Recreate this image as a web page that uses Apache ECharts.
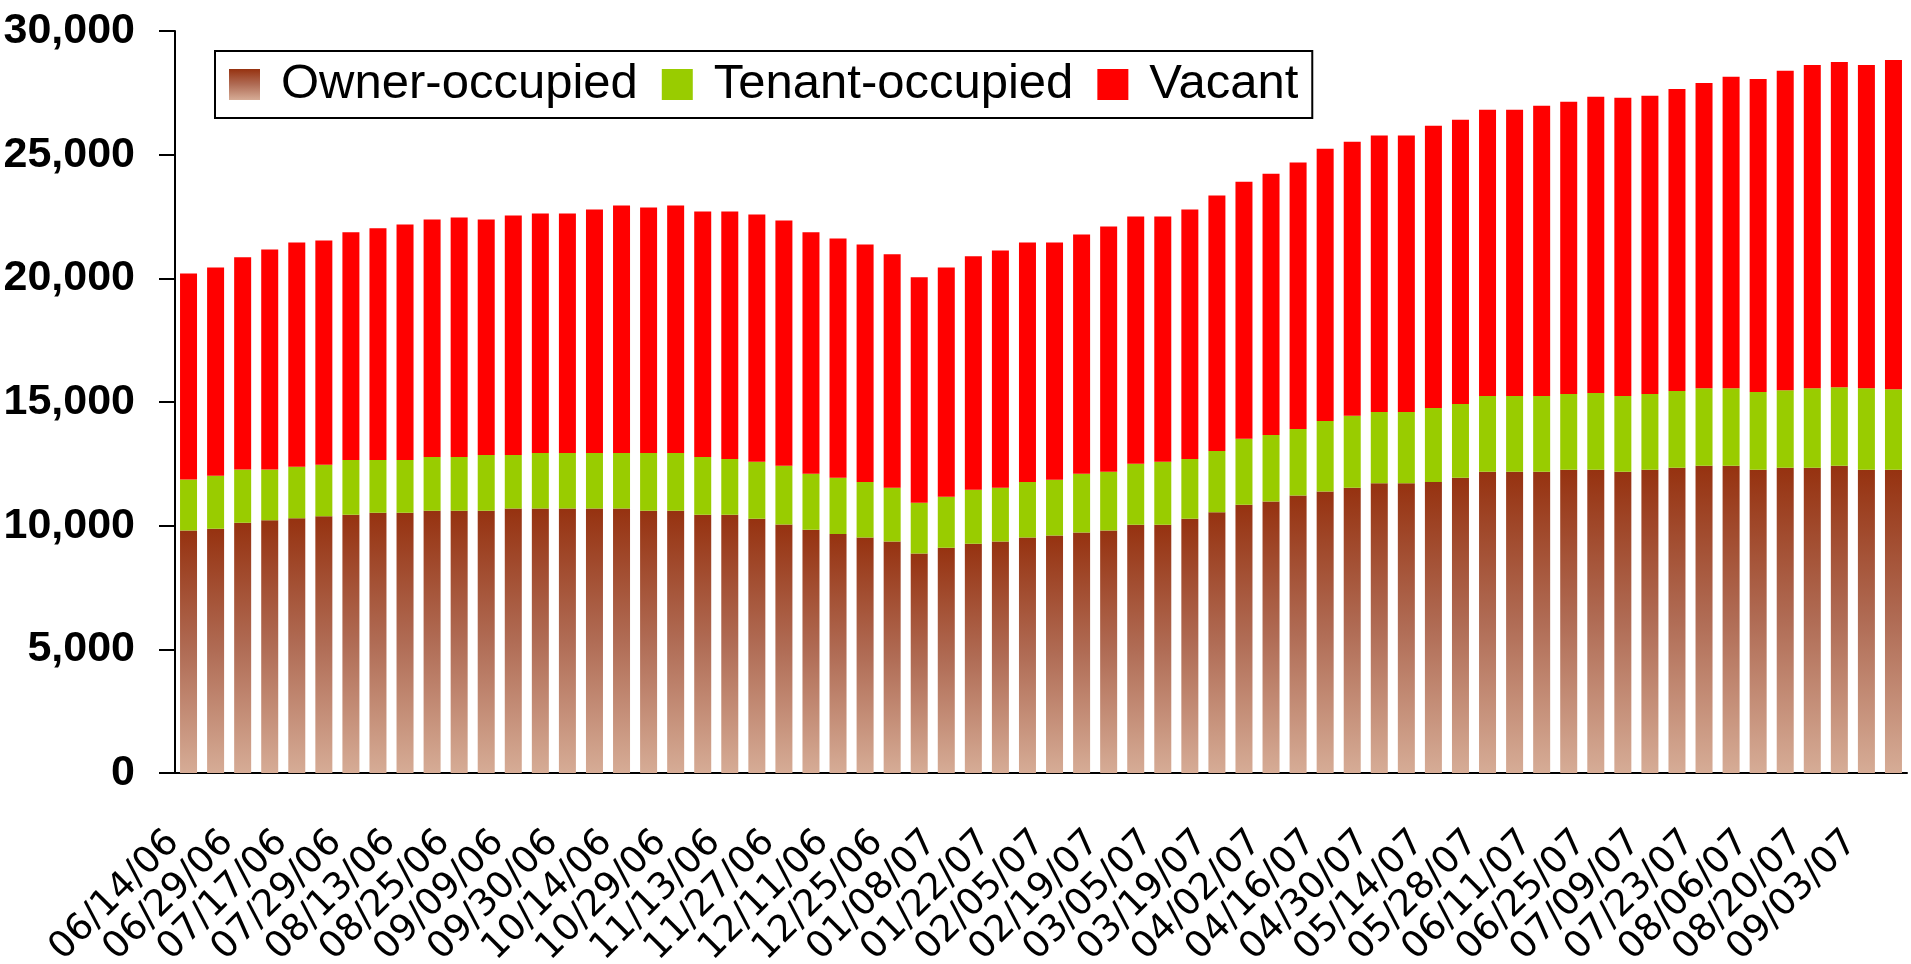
<!DOCTYPE html>
<html>
<head>
<meta charset="utf-8">
<title>Housing units</title>
<script src="https://cdn.jsdelivr.net/npm/echarts@6/dist/echarts.min.js"></script>
<style>
  html, body { margin: 0; padding: 0; background: #fff; }
  #chart { width: 1911px; height: 964px; }
</style>
</head>
<body>
<div id="chart"></div>
<script>
// labelled dates (every other bar carries a label)
const tickLabels = [
  '06/14/06', '06/29/06', '07/17/06', '07/29/06', '08/13/06', '08/25/06', '09/09/06', '09/30/06',
  '10/14/06', '10/29/06', '11/13/06', '11/27/06', '12/11/06', '12/25/06', '01/08/07', '01/22/07',
  '02/05/07', '02/19/07', '03/05/07', '03/19/07', '04/02/07', '04/16/07', '04/30/07', '05/14/07',
  '05/28/07', '06/11/07', '06/25/07', '07/09/07', '07/23/07', '08/06/07', '08/20/07', '09/03/07'
]
// one unlabelled bar follows each labelled one
const categories = tickLabels.flatMap(d => [d, ''])

const ownerOccupied = [
  9800, 9880, 10120, 10220, 10300, 10380, 10440, 10520, 10520, 10600, 10600, 10600, 10690, 10690, 10690, 10690,
  10690, 10600, 10600, 10440, 10440, 10280, 10050, 9830, 9660, 9520, 9360, 8870, 9110, 9270, 9360, 9520,
  9600, 9720, 9800, 10040, 10040, 10280, 10540, 10850, 10980, 11220, 11380, 11530, 11710, 11710, 11770, 11940,
  12180, 12180, 12180, 12260, 12260, 12180, 12260, 12340, 12420, 12420, 12260, 12340, 12340, 12420, 12260, 12260
]
const tenantOccupied = [
  2070, 2140, 2150, 2050, 2080, 2080, 2220, 2140, 2140, 2180, 2180, 2260, 2170, 2250, 2250, 2250,
  2250, 2340, 2340, 2340, 2260, 2300, 2370, 2270, 2280, 2250, 2170, 2060, 2060, 2180, 2170, 2250,
  2260, 2380, 2380, 2460, 2540, 2420, 2480, 2660, 2690, 2690, 2850, 2910, 2890, 2890, 2990, 2980,
  3060, 3060, 3060, 3060, 3100, 3060, 3060, 3100, 3140, 3140, 3140, 3140, 3220, 3180, 3300, 3260
]
const vacant = [
  8330, 8420, 8580, 8900, 9070, 9070, 9200, 9360, 9520, 9600, 9680, 9520, 9680, 9680, 9680, 9840,
  10000, 9920, 10000, 9920, 10000, 10000, 9920, 9760, 9670, 9600, 9440, 9110, 9270, 9440, 9600, 9680,
  9590, 9670, 9920, 10000, 9920, 10080, 10330, 10400, 10560, 10770, 11010, 11080, 11170, 11170, 11410, 11490,
  11580, 11580, 11740, 11820, 11980, 12060, 12060, 12220, 12340, 12590, 12660, 12910, 13070, 13150, 13070, 13310
]

const chart = echarts.init(document.getElementById('chart'))

// 褐色渐变（上深下浅）
const ownerColor = new echarts.graphic.LinearGradient(0, 0, 0, 1, [
  { offset: 0, color: '#963210' },
  { offset: 0.5, color: '#B06C55' },
  { offset: 1, color: '#D6AC96' }
])

const option = {
  backgroundColor: '#fff',
  animation: false,
  grid: { left: 175, right: 4, top: 31, bottom: 191, outerBoundsMode: 'none' },
  legend: {
    left: 215,
    top: 51,
    orient: 'horizontal',
    icon: 'rect',
    itemWidth: 31,
    itemHeight: 31,
    itemGap: 24,
    padding: [9, 14, 9, 14],
    borderColor: '#000',
    borderWidth: 2,
    backgroundColor: '#fff',
    textStyle: {
      fontFamily: 'Liberation Sans',
      fontSize: 49,
      color: '#000',
      padding: [0, 0, 0, 16]
    },
    data: ['Owner-occupied', 'Tenant-occupied', 'Vacant']
  },
  xAxis: {
    type: 'category',
    data: categories,
    axisLine: { lineStyle: { color: '#000', width: 2 } },
    axisTick: { interval: 0, length: 12, lineStyle: { color: '#000', width: 2 } },
    axisLabel: {
      interval: 1,
      rotate: 45,
      margin: 49,
      padding: [0, 21, 0, 0],
      color: '#000',
      fontFamily: 'DejaVu Sans',
      fontSize: 37
    }
  },
  yAxis: {
    type: 'value',
    min: 0,
    max: 30000,
    interval: 5000,
    splitLine: { show: false },
    axisLine: { show: true, lineStyle: { color: '#000', width: 2 } },
    axisTick: { show: true, length: 16, lineStyle: { color: '#000', width: 2 } },
    axisLabel: {
      margin: 40,
      color: '#000',
      fontFamily: 'Liberation Sans',
      fontWeight: 'bold',
      fontSize: 43,
      formatter: v => v.toLocaleString('en-US')
    }
  },
  series: [
    {
      name: 'Owner-occupied',
      type: 'bar',
      stack: 'units',
      barWidth: 17,
      itemStyle: { color: ownerColor },
      data: ownerOccupied
    },
    {
      name: 'Tenant-occupied',
      type: 'bar',
      stack: 'units',
      barWidth: 17,
      itemStyle: { color: '#99CC00' },
      data: tenantOccupied
    },
    {
      name: 'Vacant',
      type: 'bar',
      stack: 'units',
      barWidth: 17,
      itemStyle: { color: '#FF0000' },
      data: vacant
    }
  ]
}

chart.setOption(option)
</script>
</body>
</html>
